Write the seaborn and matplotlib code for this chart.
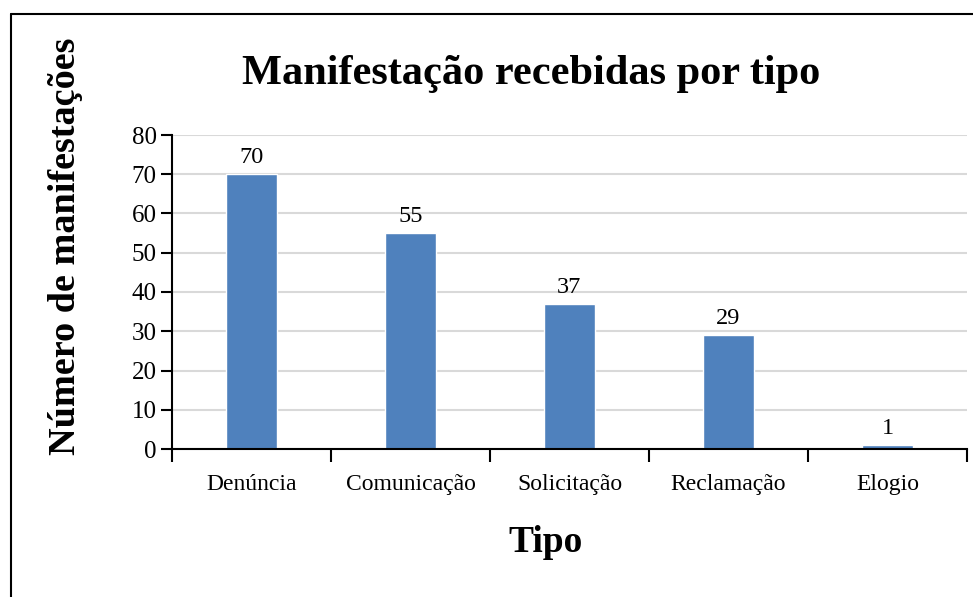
import matplotlib
matplotlib.use("Agg")
import matplotlib.pyplot as plt
from matplotlib.lines import Line2D
from matplotlib.ticker import FixedLocator, NullFormatter
import pandas as pd
import seaborn as sns

categories = ["Denúncia", "Comunicação", "Solicitação", "Reclamação", "Elogio"]
counts = [70, 55, 37, 29, 1]
y_ticks = [0, 10, 20, 30, 40, 50, 60, 70, 80]

title = "Manifestação recebidas por tipo"
x_label = "Tipo"
y_label = "Número de manifestações"

bar_color = "#4F81BD"
grid_color = "#D9D9D9"

sns.set_theme(style="white")
plt.rcParams["font.family"] = ["Liberation Serif", "DejaVu Serif"]
plt.rcParams["text.color"] = "black"
plt.rcParams["xtick.color"] = "black"
plt.rcParams["ytick.color"] = "black"

df = pd.DataFrame({"tipo": categories, "n": counts})

fig = plt.figure(figsize=(9.73, 5.97), dpi=100)
ax = fig.add_axes([172 / 973, 1 - 449 / 597, (967 - 172) / 973, (449 - 135) / 597])

sns.barplot(data=df, x="tipo", y="n", color=bar_color, width=0.315,
            saturation=1, ax=ax, zorder=3)

ax.set_xlim(-0.5, len(categories) - 0.5)
ax.set_ylim(0, 80)
ax.set_yticks(y_ticks)
ax.yaxis.grid(True, color=grid_color, linewidth=1.5, zorder=0)
ax.set_axisbelow(True)

for s in ["top", "right"]:
    ax.spines[s].set_visible(False)
for s in ["left", "bottom"]:
    ax.spines[s].set_color("black")
    ax.spines[s].set_linewidth(1.5)
    ax.spines[s].set_zorder(4)

# category separators as minor ticks, labels on majors without tick marks
ax.xaxis.set_minor_locator(FixedLocator([i - 0.5 for i in range(len(categories) + 1)]))
ax.xaxis.set_minor_formatter(NullFormatter())
ax.tick_params(axis="x", which="minor", bottom=True, length=9, width=1.5, color="black")
ax.tick_params(axis="x", which="major", bottom=True, length=0, pad=18, labelsize=17)
ax.tick_params(axis="y", left=True, length=8, width=1.5, color="black", pad=3, labelsize=18)

for p, v in zip(ax.patches, counts):
    ax.text(p.get_x() + p.get_width() / 2, v + 2.8, f"{v}", ha="center", va="baseline",
            fontsize=17.5, color="black")

ax.set_xlabel("")
ax.set_ylabel("")
fig.text(546 / 973, 1 - 543 / 597, x_label, ha="center", va="center",
         fontsize=27, fontweight="bold")
fig.text(66 / 973, 1 - 246 / 597, y_label, ha="center", va="center", rotation=90,
         fontsize=27.5, fontweight="bold")
fig.text(531 / 973, 1 - 74 / 597, title, ha="center", va="center",
         fontsize=30.5, fontweight="bold")

# outer chart border (cut off at right and bottom)
fig.add_artist(Line2D([11 / 973, 11 / 973], [0, 1 - 14 / 597], color="black", linewidth=1.5,
                      transform=fig.transFigure))
fig.add_artist(Line2D([11 / 973, 1], [1 - 14 / 597, 1 - 14 / 597], color="black", linewidth=1.5,
                      transform=fig.transFigure))

fig.savefig("out.png", dpi=100, facecolor="white")
